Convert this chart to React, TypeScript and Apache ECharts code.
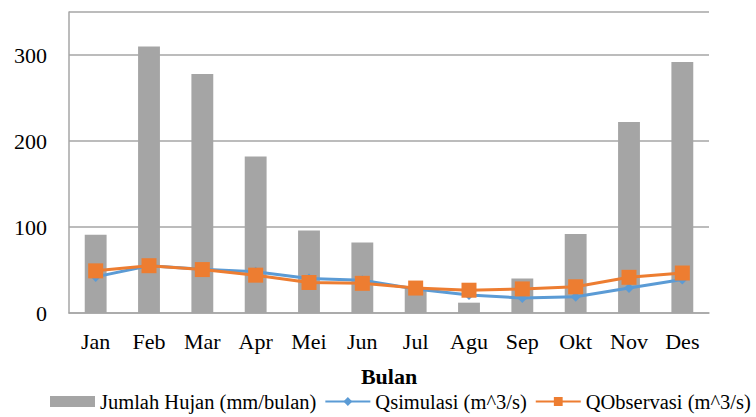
import React, { useEffect, useRef } from "react";
import * as echarts from "echarts";

const months = ["Jan", "Feb", "Mar", "Apr", "Mei", "Jun", "Jul", "Agu", "Sep", "Okt", "Nov", "Des"];
const hujan = [91, 310, 278, 182, 96, 82, 30, 12, 40, 92, 222, 292];
const qSimulasi = [42, 55, 51, 48, 40, 38, 28, 21, 17.5, 19, 29, 39];
const qObservasi = [49, 55, 50.5, 44, 35.5, 34.5, 29, 26.5, 28, 30.5, 41.5, 46.5];

const serif = "Liberation Serif";

export default function App() {
  const ref = useRef<HTMLDivElement>(null);
  useEffect(() => {
    document.body.style.margin = "0";
    if (!ref.current) return;
    const chart = echarts.init(ref.current, null, { renderer: "svg" });
    chart.setOption({
      animation: false,
      backgroundColor: "#ffffff",
      textStyle: { fontFamily: serif },
      grid: { left: 69, right: 47, top: 12, bottom: 104 },
      legend: {
        bottom: 0,
        left: 50,
        right: 0,
        padding: [5, 0, 5, 0],
        itemWidth: 45,
        itemHeight: 11,
        itemGap: 8,
        textStyle: { fontFamily: serif, fontSize: 20.5, color: "#000" },
        data: [
          { name: "Jumlah Hujan (mm/bulan)", icon: "rect" },
          { name: "Qsimulasi (m^3/s)" },
          { name: "QObservasi (m^3/s)" },
        ],
      },
      xAxis: {
        type: "category",
        data: months,
        name: "Bulan",
        nameLocation: "middle",
        nameGap: 52,
        nameTextStyle: { fontFamily: serif, fontSize: 22, fontWeight: "bold", color: "#000" },
        axisLine: { lineStyle: { color: "#a6a6a6", width: 1.5 } },
        axisTick: { show: false },
        axisLabel: { fontFamily: serif, fontSize: 22, color: "#000", margin: 17 },
      },
      yAxis: {
        type: "value",
        min: 0,
        max: 350,
        interval: 100,
        axisLine: { show: true, lineStyle: { color: "#a6a6a6", width: 1.5 } },
        axisTick: { show: false },
        splitLine: { lineStyle: { color: "#a6a6a6", width: 1.5 } },
        axisLabel: {
          fontFamily: serif,
          fontSize: 22,
          color: "#000",
          margin: 22,
          showMaxLabel: false,
          formatter: (v: number) => (v > 300 ? "" : String(v)),
        },
      },
      series: [
        {
          name: "Jumlah Hujan (mm/bulan)",
          type: "bar",
          data: hujan,
          barWidth: "41%",
          itemStyle: { color: "#a5a5a5" },
        },
        {
          name: "Qsimulasi (m^3/s)",
          type: "line",
          data: qSimulasi,
          symbol: "diamond",
          symbolSize: 10,
          lineStyle: { color: "#5b9bd5", width: 3 },
          itemStyle: { color: "#5b9bd5" },
        },
        {
          name: "QObservasi (m^3/s)",
          type: "line",
          data: qObservasi,
          symbol: "rect",
          symbolSize: 15,
          lineStyle: { color: "#ed7d31", width: 3 },
          itemStyle: { color: "#ed7d31" },
        },
      ],
    });
    return () => chart.dispose();
  }, []);
  return <div ref={ref} style={{ width: 756, height: 417 }} />;
}
